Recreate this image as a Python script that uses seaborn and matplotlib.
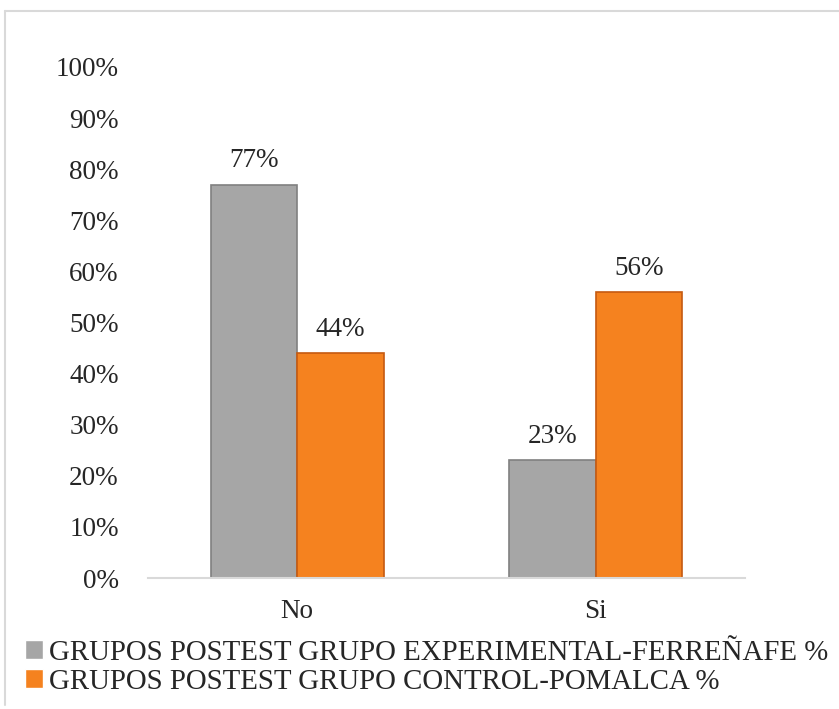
import matplotlib
matplotlib.use("Agg")
import matplotlib.pyplot as plt
from matplotlib.lines import Line2D
from matplotlib.ticker import PercentFormatter
import numpy as np
import seaborn as sns
import pandas as pd

# data
categorias = ["No", "Si"]
grupos = ["GRUPOS POSTEST GRUPO EXPERIMENTAL-FERREÑAFE %",
          "GRUPOS POSTEST GRUPO CONTROL-POMALCA %"]
experimental = [0.77, 0.23]
control = [0.44, 0.56]

df = pd.DataFrame({
    "cat": categorias * 2,
    "grupo": [grupos[0]] * 2 + [grupos[1]] * 2,
    "valor": experimental + control,
})

sns.set_style("white")
plt.rcParams["font.family"] = ["Liberation Serif", "DejaVu Serif"]
plt.rcParams["font.size"] = 19.5

gris = "#A6A6A6"
naranja = "#F5821F"

fig = plt.figure(figsize=(8.39, 7.09), dpi=100)
ax = fig.add_axes([148 / 839, 131 / 709, 597 / 839, 511 / 709])

sns.barplot(data=df, x="cat", y="valor", hue="grupo", palette=[gris, naranja],
            width=0.58, saturation=1, ax=ax, legend=True)

bordes = ["#808080", "#C55A11"]
for cont, ec in zip(ax.containers, bordes):
    for b in cont:
        b.set_edgecolor(ec)
        b.set_linewidth(1.2)
    ax.bar_label(cont, labels=[f"{v*100:.0f}%" for v in cont.datavalues],
                 padding=8, fontsize=19.5)

ax.set_ylim(0, 1)
ax.set_xlim(-0.5, 1.5)
ax.set_yticks(np.arange(0, 1.01, 0.1))
ax.yaxis.set_major_formatter(PercentFormatter(1.0, decimals=0))
ax.tick_params(axis="y", length=0, pad=21)
ax.tick_params(axis="x", length=0, pad=15)
ax.set_xlabel("")
ax.set_ylabel("")
for s in ["left", "right", "top"]:
    ax.spines[s].set_visible(False)
ax.spines["bottom"].set_color("#D9D9D9")
ax.spines["bottom"].set_linewidth(1.5)

handles, labels = ax.get_legend_handles_labels()
ax.get_legend().remove()
fig.legend(handles, labels, loc="upper left",
           bbox_to_anchor=(25 / 839, 1 - 640 / 709), frameon=False,
           handlelength=0.62, handleheight=0.62, handletextpad=0.2,
           labelspacing=0.1, borderpad=0, borderaxespad=0, fontsize=20.8)

# outer chart border
fig.add_artist(Line2D([5 / 839, 5 / 839], [1 - 11 / 709, 1 - 705 / 709],
                      transform=fig.transFigure, color="#D9D9D9", lw=1.5))
fig.add_artist(Line2D([5 / 839, 1.0], [1 - 11 / 709, 1 - 11 / 709],
                      transform=fig.transFigure, color="#D9D9D9", lw=1.5))

fig.savefig("out.png", dpi=100)
